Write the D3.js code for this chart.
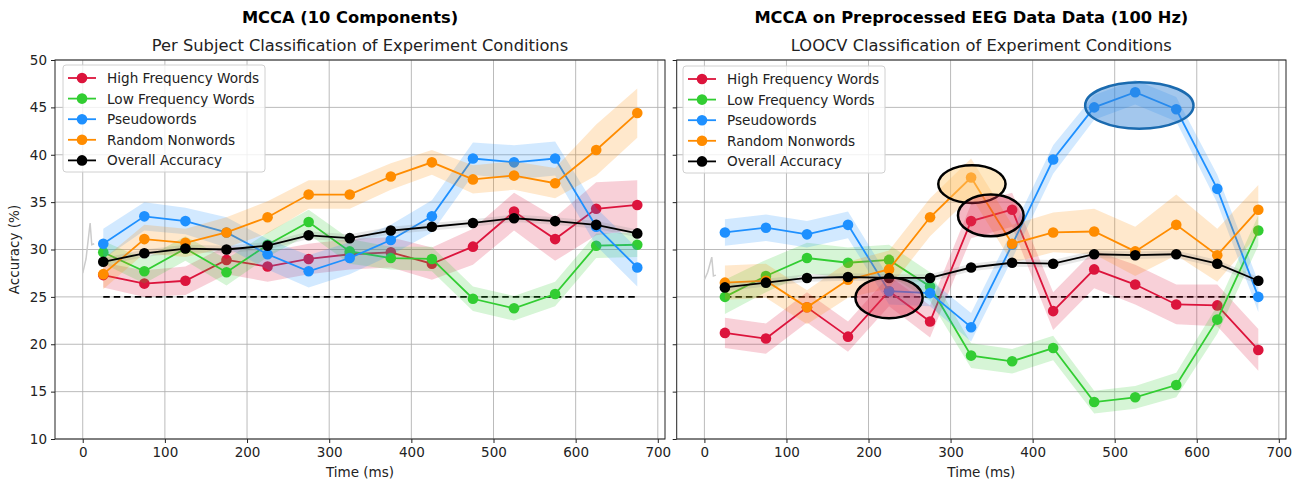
<!DOCTYPE html>
<html><head><meta charset="utf-8">
<script src="https://cdn.jsdelivr.net/npm/d3@7"></script>
<style>body{margin:0;background:#fff}svg{font-family:"DejaVu Sans",sans-serif}</style>
</head><body><svg id="c" width="1299" height="483"></svg>
<script>
const times = [25,75,125,175,225,275,325,375,425,475,525,575,625,675];
const seriesNames = ["High Frequency Words","Low Frequency Words","Pseudowords","Random Nonwords","Overall Accuracy"];
const seriesColors = ["#dc143c","#32cd32","#1e90ff","#ff8c00","#000000"];
const xTicks = [0,100,200,300,400,500,600,700];
const yTicks = [10,15,20,25,30,35,40,45,50];
const chance = 25;

// Left panel: MCCA (10 Components)
const leftHigh   = [27.3,26.4,26.7,28.9,28.2,29.0,29.5,29.7,28.5,30.3,34.0,31.1,34.3,34.7];
const leftLow    = [29.7,27.7,30.1,27.6,30.5,32.9,29.8,29.1,29.0,24.8,23.8,25.3,30.4,30.5];
const leftPseudo = [30.6,33.5,33.0,31.8,29.5,27.7,29.1,31.0,33.5,39.6,39.2,39.6,32.4,28.1];
const leftRandom = [27.4,31.1,30.7,31.8,33.4,35.8,35.8,37.7,39.2,37.4,37.8,37.0,40.5,44.4];
const leftOverall= [28.7,29.6,30.1,30.0,30.4,31.5,31.2,32.0,32.4,32.8,33.3,33.0,32.6,31.7];
const leftHighErr   = [1.3,1.4,1.5,1.5,1.6,1.6,1.6,1.6,1.7,1.9,2.0,2.3,2.8,2.6];
const leftLowErr    = [1.2,1.3,1.3,1.4,1.3,1.3,1.3,1.2,1.3,1.3,1.3,1.3,1.3,1.3];
const leftPseudoErr = [1.6,1.5,1.4,1.6,1.6,1.7,1.7,1.6,1.7,1.7,1.8,1.8,2.0,2.0];
const leftRandomErr = [1.6,1.5,1.5,1.6,1.7,1.5,1.5,1.4,1.3,1.5,1.5,1.6,2.7,2.6];
const leftOverallErr= [0.4,0.4,0.4,0.4,0.4,0.4,0.4,0.4,0.4,0.4,0.4,0.4,0.4,0.4];

// Right panel: MCCA on Preprocessed EEG Data
const rightHigh   = [21.2,20.6,23.9,20.8,25.6,22.4,33.0,34.2,23.5,27.9,26.3,24.2,24.1,19.4];
const rightLow    = [25.0,27.2,29.1,28.6,28.9,26.1,18.8,18.2,19.6,13.9,14.4,15.7,22.6,32.0];
const rightPseudo = [31.8,32.3,31.6,32.6,25.6,25.4,21.8,30.5,39.5,45.0,46.6,44.8,36.4,25.0];
const rightRandom = [26.5,26.7,23.9,26.8,27.9,33.4,37.6,30.6,31.8,31.9,29.8,32.6,29.4,34.2];
const rightOverall= [26.0,26.5,27.0,27.1,27.0,27.0,28.1,28.6,28.5,29.5,29.4,29.5,28.5,26.7];
const rightHighErr   = [1.6,1.6,1.6,1.6,1.6,1.7,1.8,1.8,2.0,2.0,2.1,2.1,2.2,2.2];
const rightLowErr    = [1.8,1.7,1.6,1.6,1.6,1.5,1.3,1.3,1.3,1.2,1.2,1.3,1.5,1.6];
const rightPseudoErr = [1.4,1.4,1.4,1.4,1.4,1.4,1.5,1.5,1.5,1.3,1.3,1.3,1.5,1.6];
const rightRandomErr = [1.8,1.8,1.8,1.9,2.0,2.0,2.0,2.0,2.1,2.4,2.6,3.2,2.8,2.6];
const rightOverallErr= [0.4,0.4,0.4,0.4,0.4,0.4,0.4,0.4,0.4,0.4,0.4,0.4,0.4,0.4];

// faint grey trace near t=0
const traceT = [0,4,9,11,14];
const leftTrace = [27.5,29.0,32.8,30.5,30.6];
const rightTrace = [26.8,27.6,29.2,27.2,27.3];

// highlight ellipses on right panel (center time, center value, half-width ms, half-height %)
const ellCenterT = [326,349,225,530];
const ellCenterV = [36.9,33.6,24.9,45.2];
const ellHalfT = [41,40,41,66];
const ellHalfV = [2.0,2.2,2.15,2.46];
const ellFill = ["rgba(255,205,120,0.45)","rgba(225,50,80,0.35)","rgba(225,50,80,0.45)","rgba(50,130,215,0.45)"];
const ellStroke = ["#000","#000","#000","#1a6aaf"];

const svg = d3.select("#c");

const panels = [
  {title:"MCCA (10 Components)", sub:"Per Subject Classification of Experiment Conditions",
   x0:55, x1:665, ylab:true,
   data:[leftHigh,leftLow,leftPseudo,leftRandom,leftOverall],
   err:[leftHighErr,leftLowErr,leftPseudoErr,leftRandomErr,leftOverallErr],
   trace:leftTrace, legend:{x:63,y:65}, ell:false},
  {title:"MCCA on Preprocessed EEG Data Data (100 Hz)", sub:"LOOCV Classification of Experiment Conditions",
   x0:676.7, x1:1286, ylab:false,
   data:[rightHigh,rightLow,rightPseudo,rightRandom,rightOverall],
   err:[rightHighErr,rightLowErr,rightPseudoErr,rightRandomErr,rightOverallErr],
   trace:rightTrace, legend:{x:683,y:66}, ell:true}
];

const yTop = 60, yBot = 439;

panels.forEach(p => {
  const x = d3.scaleLinear().domain([-33.75,708.75]).range([p.x0,p.x1]);
  const y = d3.scaleLinear().domain([10,50]).range([yBot,yTop]);
  const g = svg.append("g");
  const cx = (p.x0+p.x1)/2;

  g.append("text").attr("x",cx-10).attr("y",23).attr("text-anchor","middle")
    .attr("font-size",16.3).attr("font-weight","bold").text(p.title);
  g.append("text").attr("x",cx).attr("y",51).attr("text-anchor","middle")
    .attr("font-size",16.3).attr("fill","#222").text(p.sub);

  // grid
  g.append("g").selectAll("line").data(xTicks).join("line")
    .attr("x1",d=>x(d)).attr("x2",d=>x(d)).attr("y1",yTop).attr("y2",yBot)
    .attr("stroke","#b0b0b0").attr("stroke-width",1).attr("opacity",0.85);
  g.append("g").selectAll("line").data(yTicks).join("line")
    .attr("x1",p.x0).attr("x2",p.x1).attr("y1",d=>y(d)).attr("y2",d=>y(d))
    .attr("stroke","#b0b0b0").attr("stroke-width",1).attr("opacity",0.85);

  // axes
  const xa = g.append("g").attr("transform",`translate(0,${yBot})`)
    .call(d3.axisBottom(x).tickValues(xTicks).tickSize(4).tickPadding(4));
  const ya = g.append("g").attr("transform",`translate(${p.x0},0)`)
    .call(d3.axisLeft(y).tickValues(yTicks).tickSize(4).tickPadding(4).tickFormat(p.ylab?d3.format("d"):()=>""));
  [xa,ya].forEach(a=>{a.select(".domain").remove();a.selectAll("text").attr("font-size",13.5).attr("fill","#222").attr("font-family","DejaVu Sans");a.selectAll("line").attr("stroke","#222");});

  g.append("text").attr("x",cx).attr("y",477).attr("text-anchor","middle").attr("font-size",13.5).attr("fill","#222").text("Time (ms)");
  if (p.ylab) g.append("text").attr("transform",`translate(19,${(yTop+yBot)/2}) rotate(-90)`)
    .attr("text-anchor","middle").attr("font-size",13.5).attr("fill","#222").text("Accuracy (%)");

  // faint trace
  g.append("path").datum(traceT.map((t,i)=>[t,p.trace[i]]))
    .attr("d",d3.line().x(d=>x(d[0])).y(d=>y(d[1])))
    .attr("fill","none").attr("stroke","#ccc").attr("stroke-width",1.5);

  // chance line
  g.append("line").attr("x1",x(times[0])).attr("x2",x(times[times.length-1]))
    .attr("y1",y(chance)).attr("y2",y(chance)).attr("stroke","#000").attr("stroke-width",1.8)
    .attr("stroke-dasharray","6.5,4");

  const area = d3.area().x((d,i)=>x(times[i])).y0(d=>y(d[0])).y1(d=>y(d[1]));
  const line = d3.line().x((d,i)=>x(times[i])).y(d=>y(d));
  p.data.forEach((vals,si)=>{
    const e = p.err[si];
    g.append("path").datum(vals.map((v,i)=>[v-e[i],v+e[i]])).attr("d",area)
      .attr("fill",si===4?"#888":seriesColors[si]).attr("opacity",0.2);
    g.append("path").datum(vals).attr("d",line).attr("fill","none")
      .attr("stroke",seriesColors[si]).attr("stroke-width",1.8);
    g.append("g").selectAll("circle").data(vals).join("circle")
      .attr("cx",(d,i)=>x(times[i])).attr("cy",d=>y(d)).attr("r",5.3)
      .attr("fill",seriesColors[si]);
  });

  if (p.ell) {
    ellCenterT.forEach((t,i)=>{
      g.append("ellipse").attr("cx",x(t)).attr("cy",y(ellCenterV[i]))
        .attr("rx",x(t+ellHalfT[i])-x(t)).attr("ry",y(ellCenterV[i]-ellHalfV[i])-y(ellCenterV[i]))
        .attr("fill",ellFill[i]).attr("stroke",ellStroke[i]).attr("stroke-width",2.5);
    });
  }

  // spines
  g.append("rect").attr("x",p.x0).attr("y",yTop).attr("width",p.x1-p.x0).attr("height",yBot-yTop)
    .attr("fill","none").attr("stroke","#222").attr("stroke-width",1);

  // legend
  const L = g.append("g").attr("transform",`translate(${p.legend.x},${p.legend.y})`);
  L.append("rect").attr("width",202).attr("height",107).attr("rx",3)
    .attr("fill","rgba(255,255,255,0.8)").attr("stroke","#d0d0d0");
  seriesNames.forEach((n,i)=>{
    const yy = 13 + i*20.6;
    L.append("line").attr("x1",5).attr("x2",33).attr("y1",yy).attr("y2",yy)
      .attr("stroke",seriesColors[i]).attr("stroke-width",1.8);
    L.append("circle").attr("cx",19).attr("cy",yy).attr("r",5.3).attr("fill",seriesColors[i]);
    L.append("text").attr("x",44).attr("y",yy+5).attr("font-size",13.6).attr("fill","#222").text(n);
  });
});
</script></body></html>
